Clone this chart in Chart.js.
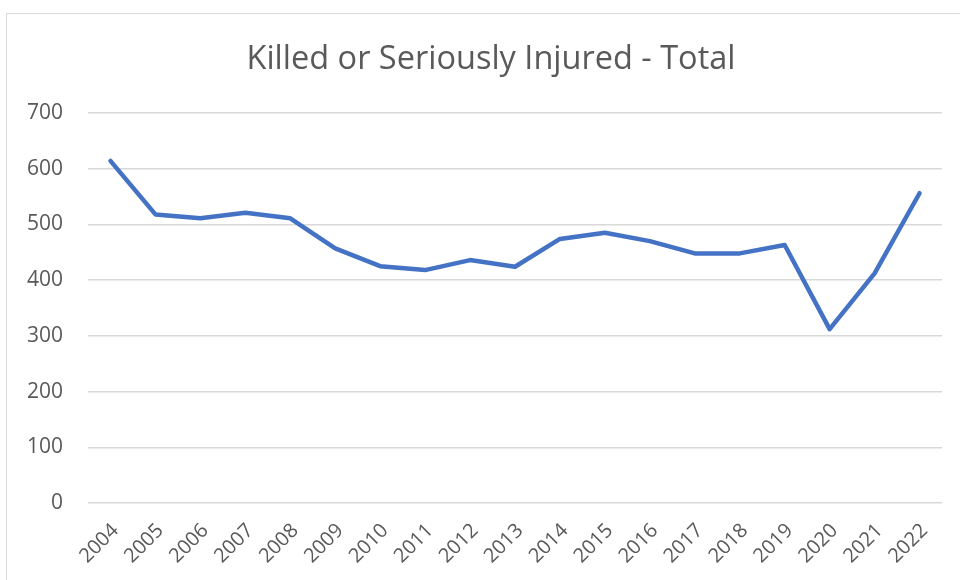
<!DOCTYPE html>
<html><head><meta charset="utf-8">
<script src="https://cdn.jsdelivr.net/npm/chart.js@4/dist/chart.umd.min.js"></script>
<style>
html,body{margin:0;padding:0;background:#fff;overflow:hidden;}
#wrap{position:relative;width:960px;height:580px;}
#frame{position:absolute;left:6px;top:13px;width:1000px;height:700px;border:1px solid #d9d9d9;box-sizing:border-box;}
canvas{position:absolute;left:0;top:0;}
</style></head>
<body><div id="wrap"><div id="frame"></div><canvas id="c" width="960" height="580"></canvas></div>
<script>
const title = "Killed or Seriously Injured - Total";
const years = ["2004","2005","2006","2007","2008","2009","2010","2011","2012","2013","2014","2015","2016","2017","2018","2019","2020","2021","2022"];
const ksiTotal = [614,518,511,521,511,457,425,418,436,424,474,485,470,448,448,463,312,412,556];
const yTicks = [0,100,200,300,400,500,600,700];

const FONT = "'Open Sans', sans-serif";
new Chart(document.getElementById('c'), {
  type: 'line',
  data: { labels: years, datasets: [{ data: ksiTotal, borderColor: '#4472C4', borderWidth: 4.5, pointRadius: 0, tension: 0, fill: false, borderCapStyle: 'round', borderJoinStyle: 'round' }] },
  options: {
    responsive: false, animation: false, devicePixelRatio: 1,
    layout: { padding: { left: 40, right: 18, top: 0, bottom: 0 } },
    plugins: {
      legend: { display: false }, tooltip: { enabled: false },
      title: { display: true, text: title, color: '#595959', font: { family: FONT, size: 32.5, weight: '400', lineHeight: 1.2 }, padding: { top: 40, bottom: 34 } }
    },
    scales: {
      x: {
        offset: true,
        grid: { display: false, drawTicks: false },
        border: { display: false },
        ticks: { color: '#595959', font: { family: FONT, size: 20 }, minRotation: 45, maxRotation: 45, padding: 16, labelOffset: 5, autoSkip: false },
        afterFit: s => { s.height = 77; }
      },
      y: {
        min: 0, max: 700,
        afterBuildTicks: s => { s.ticks = yTicks.map(v => ({ value: v })); },
        grid: { color: '#d9d9d9', lineWidth: 1.5, drawTicks: false },
        border: { display: false },
        ticks: { color: '#595959', font: { family: FONT, size: 21 }, padding: 25 },
        afterFit: s => { s.width = 48; s._computeLabelArea = () => null; }
      }
    }
  }
});
</script></body></html>
